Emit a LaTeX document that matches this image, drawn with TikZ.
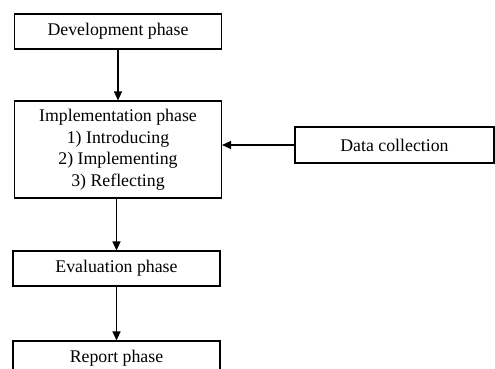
\documentclass[tikz,border=0pt]{standalone}
\usepackage{fontspec}
\setmainfont{Liberation Serif}
\usetikzlibrary{arrows.meta}
\begin{document}
\begin{tikzpicture}[x=1pt,y=-1pt,
  box/.style={draw,line width=1.1pt,inner sep=0pt,font=\fontsize{17.8}{21.5}\selectfont,align=center},
  arr/.style={line width=1.1pt,-{Triangle[length=9pt,width=8pt]}}]
\useasboundingbox (0,0) rectangle (495,369);
\node[box,minimum width=207pt,minimum height=35pt] (dev) at (118,31.5) {Development phase};
\node[box,minimum width=207pt,minimum height=97pt] (impl) at (118,149.5) {Implementation phase\\1) Introducing\\2) Implementing\\3) Reflecting};
\node[box,minimum width=199pt,minimum height=36pt] (data) at (394.5,145) {Data collection};
\node[box,minimum width=207pt,minimum height=35pt] (eval) at (116.5,268.5) {Evaluation phase};
\node[box,minimum width=207pt,minimum height=35pt] (rep) at (116.5,358.5) {Report phase};
\draw[arr] (dev.south) -- (dev.south |- impl.north);
\draw[arr] (impl.south -| eval.north) -- (eval.north);
\draw[arr] (eval.south) -- (rep.north);
\draw[arr] (data.west) -- (data.west -| impl.east);
\end{tikzpicture}
\end{document}
